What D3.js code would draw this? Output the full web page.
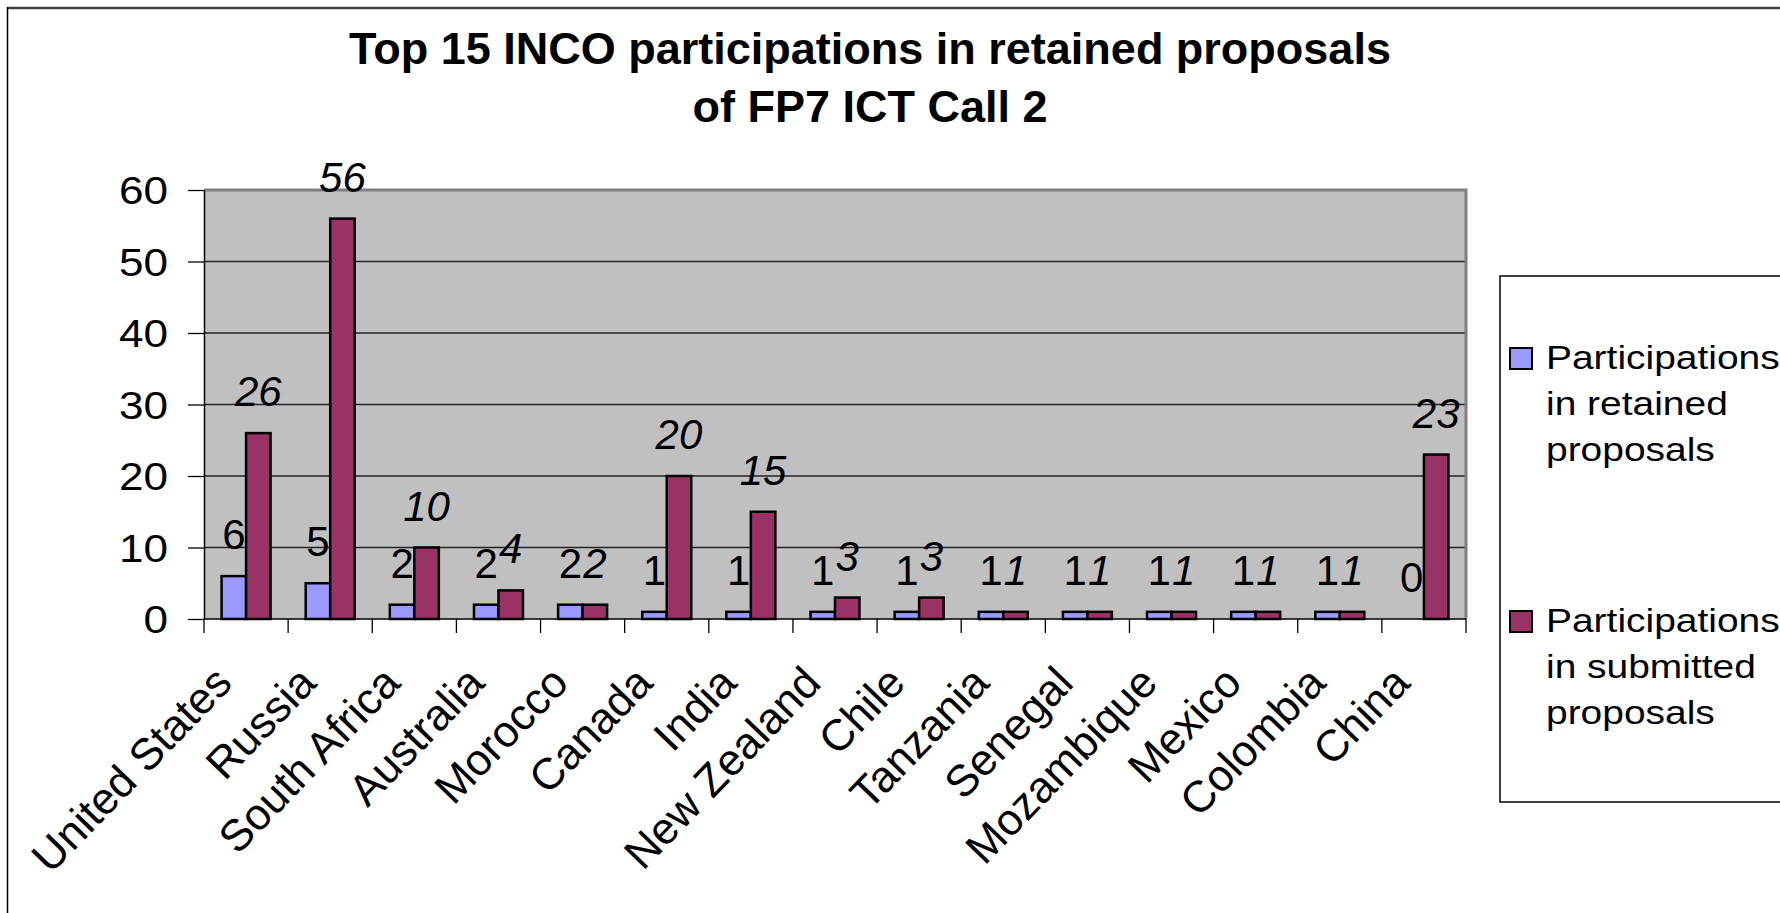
<!DOCTYPE html>
<html>
<head>
<meta charset="utf-8">
<script src="https://cdn.jsdelivr.net/npm/d3@7"></script>
<style>
  html, body { margin: 0; padding: 0; background: #fff; }
  svg { display: block; }
  text { font-family: "Liberation Sans", Arial, sans-serif; fill: #000; }
</style>
</head>
<body>
<svg id="chart" width="1780" height="913"></svg>
<script>
const titleLines = ["Top 15 INCO participations in retained proposals", "of FP7 ICT Call 2"];
const categories = ["United States", "Russia", "South Africa", "Australia", "Morocco", "Canada", "India", "New Zealand", "Chile", "Tanzania", "Senegal", "Mozambique", "Mexico", "Colombia", "China"];
const retained  = [6, 5, 2, 2, 2, 1, 1, 1, 1, 1, 1, 1, 1, 1, 0];
const submitted = [26, 56, 10, 4, 2, 20, 15, 3, 3, 1, 1, 1, 1, 1, 23];
const seriesKeys = ["retained", "submitted"];
const legendLines = [["Participations", "in retained", "proposals"], ["Participations", "in submitted", "proposals"]];
const yTicks = [0, 10, 20, 30, 40, 50, 60];

const colors = { retained: "#9999FF", submitted: "#993366" };

const svg = d3.select("#chart");
const W = 1780, H = 913;
const plot = { left: 204, right: 1466, top: 190, bottom: 619 };

svg.append("rect").attr("width", W).attr("height", H).attr("fill", "#fff");

// outer chart border (top and left visible)
svg.append("line").attr("x1", 7).attr("x2", W).attr("y1", 8).attr("y2", 8)
  .attr("stroke", "#404040").attr("stroke-width", 2.5);
svg.append("line").attr("x1", 7.5).attr("x2", 7.5).attr("y1", 7).attr("y2", H)
  .attr("stroke", "#000").attr("stroke-width", 1.5);

// title
svg.append("g").selectAll("text").data(titleLines).join("text")
  .attr("x", 870).attr("y", (d, i) => 64 + i * 58)
  .attr("text-anchor", "middle")
  .attr("font-size", 45).attr("font-weight", "bold")
  .text(d => d);

const x0 = d3.scaleBand().domain(categories).range([plot.left, plot.right]).paddingInner(0).paddingOuter(0);
const x1 = d3.scaleBand().domain(seriesKeys).range([0, x0.bandwidth()]).paddingInner(0).paddingOuter(0.717);
const y = d3.scaleLinear().domain([0, 60]).range([plot.bottom, plot.top]);

// plot area
svg.append("rect").attr("x", plot.left).attr("y", plot.top)
  .attr("width", plot.right - plot.left).attr("height", plot.bottom - plot.top)
  .attr("fill", "#C0C0C0");

// gridlines
svg.append("g").selectAll("line").data(yTicks.filter(t => t > 0 && t < 60)).join("line")
  .attr("x1", plot.left).attr("x2", plot.right)
  .attr("y1", d => y(d)).attr("y2", d => y(d))
  .attr("stroke", "#222").attr("stroke-width", 1.3);

// plot border top/right
svg.append("path")
  .attr("d", `M${plot.left},${plot.top}H${plot.right}V${plot.bottom}`)
  .attr("fill", "none").attr("stroke", "#808080").attr("stroke-width", 3);

// bars
const rows = categories.map((c, i) => ({ cat: c, retained: retained[i], submitted: submitted[i] }));
const groups = svg.append("g").selectAll("g").data(rows).join("g")
  .attr("transform", d => `translate(${x0(d.cat)},0)`);
groups.selectAll("rect").data(d => seriesKeys.map(k => ({ key: k, value: d[k] })).filter(e => e.value > 0)).join("rect")
  .attr("x", d => x1(d.key)).attr("width", x1.bandwidth())
  .attr("y", d => y(d.value)).attr("height", d => y(0) - y(d.value))
  .attr("fill", d => colors[d.key]).attr("stroke", "#000").attr("stroke-width", 2.5);

// data labels
groups.selectAll("text").data(d => seriesKeys.map(k => ({ key: k, value: d[k] }))).join("text")
  .attr("x", d => x1(d.key) + x1.bandwidth() / 2)
  .attr("y", d => y(d.value) - 27)
  .attr("text-anchor", "middle")
  .attr("font-size", 42)
  .attr("font-style", d => d.key === "submitted" ? "italic" : "normal")
  .text(d => d.value);

// y axis
const yAxis = svg.append("g").attr("transform", `translate(${plot.left},0)`)
  .call(d3.axisLeft(y).tickValues(yTicks).tickSize(16).tickSizeOuter(0).tickFormat(d3.format("d")));
yAxis.select(".domain").attr("stroke", "#000").attr("stroke-width", 1.5);
yAxis.selectAll(".tick line").attr("stroke", "#000").attr("stroke-width", 1.3);
yAxis.selectAll(".tick text")
  .attr("x", 0).attr("dy", "0.36em")
  .attr("transform", "translate(-36,0) scale(1.16,1)")
  .attr("font-size", 38).attr("font-family", null).attr("fill", "#000");

// x axis
const xAxis = svg.append("g").attr("transform", `translate(0,${plot.bottom})`)
  .call(d3.axisBottom(x0).tickSize(0).tickSizeOuter(0));
xAxis.select(".domain").remove();
xAxis.append("line").attr("x1", plot.left).attr("x2", plot.right).attr("y1", 0).attr("y2", 0)
  .attr("stroke", "#000").attr("stroke-width", 1.5);
const edges = categories.map(c => x0(c)).concat([x0(categories[categories.length - 1]) + x0.bandwidth()]);
xAxis.append("g").selectAll("line").data(edges).join("line")
  .attr("x1", d => d).attr("x2", d => d).attr("y1", 0).attr("y2", 14)
  .attr("stroke", "#000").attr("stroke-width", 1.3);
xAxis.selectAll(".tick text")
  .attr("y", 0).attr("dy", 0)
  .attr("text-anchor", "end")
  .attr("transform", "translate(-12,66) rotate(-46)")
  .attr("font-size", 44).attr("font-family", null).attr("fill", "#000");

// legend
const lg = svg.append("g");
lg.append("rect").attr("x", 1500).attr("y", 276).attr("width", 320).attr("height", 526)
  .attr("fill", "#fff").attr("stroke", "#000").attr("stroke-width", 1.5);
const items = lg.selectAll("g.item").data(seriesKeys).join("g").attr("class", "item")
  .attr("transform", (d, i) => `translate(0,${i * 263})`);
items.append("rect").attr("x", 1510).attr("y", 348).attr("width", 22).attr("height", 21)
  .attr("fill", d => colors[d]).attr("stroke", "#000").attr("stroke-width", 2);
items.each(function(d, i) {
  d3.select(this).selectAll("text").data(legendLines[i]).join("text")
    .attr("transform", (t, j) => `translate(1546,${369 + j * 46}) scale(1.18,1)`)
    .attr("font-size", 33)
    .text(t => t);
});
</script>
</body>
</html>
